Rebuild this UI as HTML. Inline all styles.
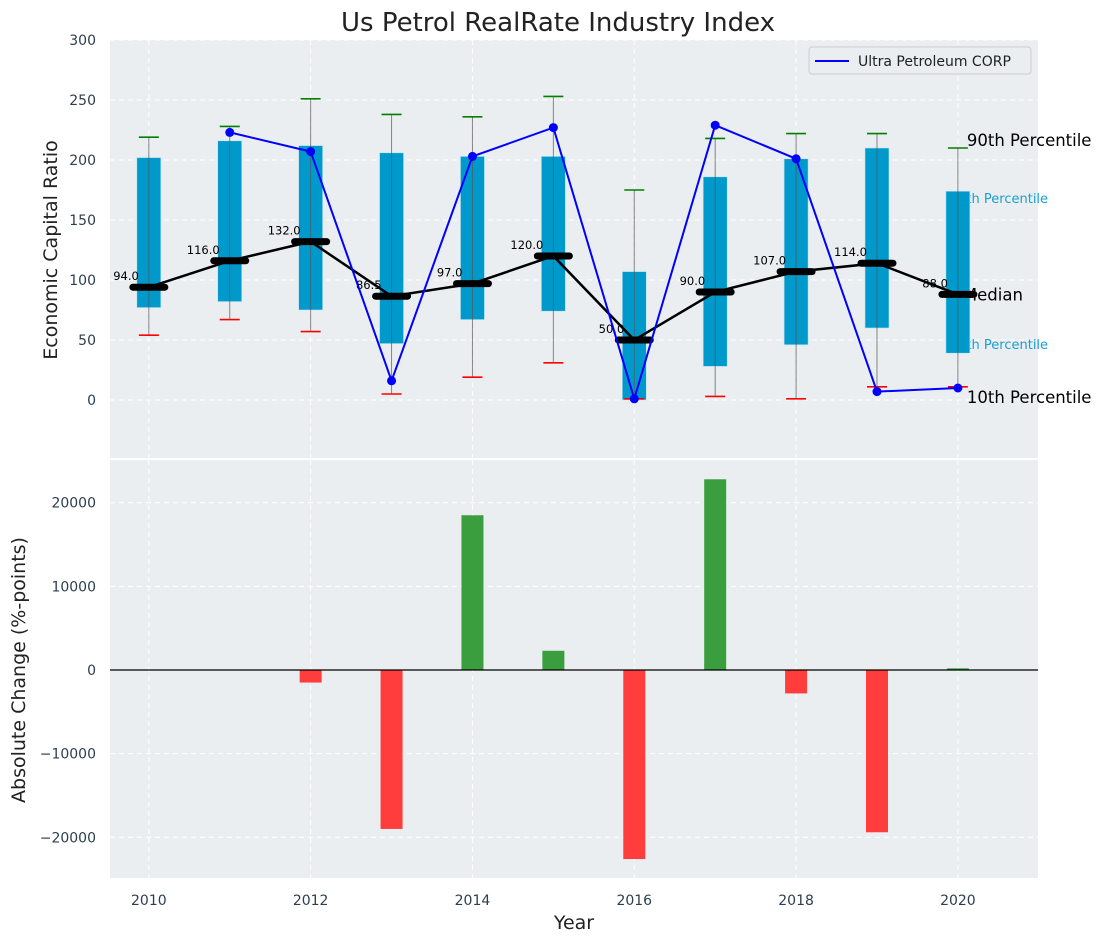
<!DOCTYPE html>
<html><head><meta charset="utf-8"><style>
body{margin:0;background:#fff;}
svg text{font-family:"DejaVu Sans","Liberation Sans",sans-serif;}
</style></head><body>
<svg id="chart" width="1102" height="942" viewBox="0 0 1102 942" xmlns="http://www.w3.org/2000/svg">
<text x="558" y="31" font-size="26" text-anchor="middle" fill="#222">Us Petrol RealRate Industry Index</text>
<rect x="110" y="40" width="928" height="418" fill="#eaeef0"/>
<rect x="110" y="460" width="928" height="418" fill="#eaeef0"/>
<g id="grid"></g>
<g id="top"></g>
<g id="bottom"></g>
<g id="axes"></g>
<text transform="translate(57,250) rotate(-90)" font-size="19" text-anchor="middle" fill="#222">Economic Capital Ratio</text>
<text transform="translate(25,670) rotate(-90)" font-size="19" text-anchor="middle" fill="#222">Absolute Change (%-points)</text>
<text x="574" y="929" font-size="19" text-anchor="middle" fill="#222">Year</text>
<g>
<rect x="809" y="47" width="222" height="27" rx="3" fill="#eaeef0" stroke="#ccc"/>
<line x1="815" y1="61" x2="849" y2="61" stroke="#0000ff" stroke-width="2"/>
<text x="858" y="66" font-size="14" fill="#222">Ultra Petroleum CORP</text>
</g>
</svg>
<script>
const years=[2010,2011,2012,2013,2014,2015,2016,2017,2018,2019,2020];
const p90=[219,228,251,238,236,253,175,218,222,222,210];
const p75=[202,216,212,206,203,203,107,186,201,210,174];
const medians=[94,116,132,86.5,97,120,50,90,107,114,88];
const p25=[77,82,75,47,67,74,0,28,46,60,39];
const p10=[54,67,57,5,19,31,1,3,1,11,11];
const companyYears=[2011,2012,2013,2014,2015,2016,2017,2018,2019,2020];
const companyValues=[223,207,16,203,227,1,229,201,7,10];
const changeYears=[2012,2013,2014,2015,2016,2017,2018,2019,2020];
const changeValues=[-1500,-19000,18500,2300,-22600,22800,-2800,-19400,200];
const topTicks=[0,50,100,150,200,250,300];
const bottomTicks=[-20000,-10000,0,10000,20000];
const xTicks=[2010,2012,2014,2016,2018,2020];

const NS="http://www.w3.org/2000/svg";
const X0=110,X1=1038,xMin=2009.52,xMax=2020.99;
const x=v=>X0+(v-xMin)/(xMax-xMin)*(X1-X0);
const yT=v=>400-1.2*v;
const yB=v=>670-v*0.008365;
function mk(parent,tag,attrs){const e=document.createElementNS(NS,tag);for(const k in attrs)e.setAttribute(k,attrs[k]);document.getElementById(parent).appendChild(e);return e;}

xTicks.forEach(t=>{
  const g1=mk('grid','line',{x1:x(t),x2:x(t),y1:40,y2:458,stroke:'#fff','stroke-dasharray':'5,4','stroke-width':1});
  
  
  const g2=mk('grid','line',{x1:x(t),x2:x(t),y1:460,y2:878,stroke:'#fff','stroke-dasharray':'5,4','stroke-width':1});
  
  
  const tl=mk('axes','text',{x:x(t),y:905,'font-size':14,'text-anchor':'middle',fill:'#2c3e50'});
  tl.textContent=t;
  
  
});
topTicks.forEach(t=>{
  const g=mk('grid','line',{x1:X0,x2:X1,y1:yT(t),y2:yT(t),stroke:'#fff','stroke-dasharray':'5,4'});
  
  
  const tl=mk('axes','text',{x:96,y:yT(t)+5,'font-size':14,'text-anchor':'end',fill:'#2c3e50'});
  tl.textContent=t;
  
  
});
bottomTicks.forEach(t=>{
  const g=mk('grid','line',{x1:X0,x2:X1,y1:yB(t),y2:yB(t),stroke:'#fff','stroke-dasharray':'5,4'});
  
  
  const tl=mk('axes','text',{x:96,y:yB(t)+5,'font-size':14,'text-anchor':'end',fill:'#2c3e50'});
  tl.textContent=String(t).replace('-','\u2212');
  
  
});

const last=years.length-1, lx=x(years[last]);
[['90th Percentile',yT(p90[last])-2,16.5,'#000',lx+9],['75th Percentile',yT(p75[last])+12,13,'#1a9fd0',lx-8],['Median',yT(medians[last])+6,16.5,'#000',lx+5],['25th Percentile',yT(p25[last])-4,13,'#1a9fd0',lx-8],['10th Percentile',yT(p10[last])+16,16.5,'#000',lx+9]].forEach(([s,yy,fs,c,xx])=>{
  const t=mk('top','text',{x:xx,y:yy,'font-size':fs,fill:c});
  t.textContent=s;
  
  
});

years.forEach((yr,i)=>{
  const cx=x(yr),bw=24;
  const b=mk('top','rect',{x:cx-bw/2,y:yT(p75[i]),width:bw,height:yT(p25[i])-yT(p75[i]),fill:'#0099cc',stroke:'#bfe4f2','stroke-width':0.6});
  
  
  const w=mk('top','line',{x1:cx,x2:cx,y1:yT(p90[i]),y2:yT(p10[i]),stroke:'#555','stroke-opacity':0.7,'stroke-width':1});
  
  
  const c1=mk('top','line',{x1:cx-10,x2:cx+10,y1:yT(p90[i]),y2:yT(p90[i]),stroke:'green','stroke-width':1.6});
  
  
  const c2=mk('top','line',{x1:cx-10,x2:cx+10,y1:yT(p10[i]),y2:yT(p10[i]),stroke:'red','stroke-width':1.6});
  
  
});
const mpts=years.map((yr,i)=>x(yr)+','+yT(medians[i])).join(' ');
const ml=mk('top','polyline',{points:mpts,fill:'none',stroke:'#000','stroke-width':2.5});


years.forEach((yr,i)=>{
  const cx=x(yr);
  const m=mk('top','line',{x1:cx-16,x2:cx+16,y1:yT(medians[i]),y2:yT(medians[i]),stroke:'#000','stroke-width':7,'stroke-linecap':'round'});
  
  
  const t=mk('top','text',{x:cx-10,y:yT(medians[i])-7,'font-size':11.5,'text-anchor':'end',fill:'#000'});
  t.textContent=medians[i].toFixed(1);
  
  
});
const cpts=companyYears.map((yr,i)=>x(yr)+','+yT(companyValues[i])).join(' ');
const cl=mk('top','polyline',{points:cpts,fill:'none',stroke:'#0000ff','stroke-width':2});


companyYears.forEach((yr,i)=>{
  const p=mk('top','circle',{cx:x(yr),cy:yT(companyValues[i]),r:4.5,fill:'#0000ff'});
  
  
});

changeYears.forEach((yr,i)=>{
  const v=changeValues[i],y0=yB(0),y1=yB(v);
  const r=mk('bottom','rect',{x:x(yr)-11,y:Math.min(y0,y1),width:22,height:Math.abs(y1-y0),fill:v>=0?'#3a9e3e':'#ff3d3d'});
  
  
});
const zl=mk('bottom','line',{x1:X0,x2:X1,y1:yB(0),y2:yB(0),stroke:'#000','stroke-width':1.2});


</script>
</body></html>
